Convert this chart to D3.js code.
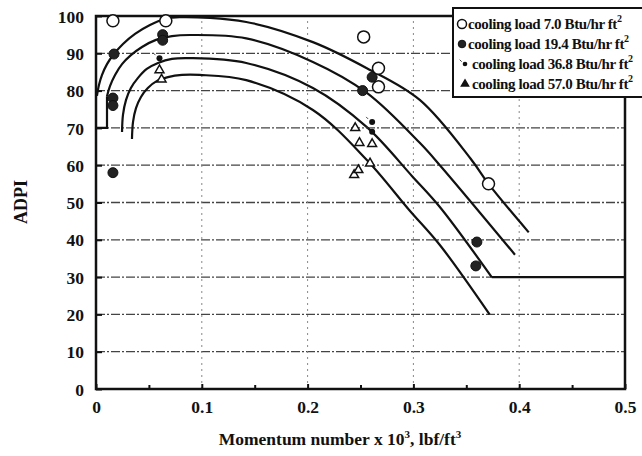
<!DOCTYPE html>
<html>
<head>
<meta charset="utf-8">
<script src="https://cdn.jsdelivr.net/npm/d3@7"></script>
<style>
  html, body { margin: 0; padding: 0; background: #fff; }
  svg { display: block; }
  text { font-family: "Liberation Serif", "DejaVu Serif", serif; font-weight: bold; fill: #111; }
</style>
</head>
<body>
<svg id="chart" width="642" height="456"></svg>
<script>
// ---- data ----
const xTicks = [0, 0.1, 0.2, 0.3, 0.4, 0.5];
const yTicks = [0, 10, 20, 30, 40, 50, 60, 70, 80, 90, 100];
const seriesNames = ["cooling load 7.0 Btu/hr ft", "cooling load 19.4 Btu/hr ft",
                     "cooling load 36.8 Btu/hr ft", "cooling load 57.0 Btu/hr ft"];

// measured points [momentum number, ADPI]
const load7 = [[0.016, 98.7], [0.066, 98.7], [0.253, 94.4], [0.267, 86], [0.267, 81], [0.371, 55]];
const load19 = [[0.017, 89.8], [0.016, 78], [0.016, 76], [0.016, 58], [0.063, 95], [0.063, 93.5],
                [0.261, 83.6], [0.252, 80], [0.36, 39.4], [0.359, 33]];
const load37 = [[0.06, 88.7], [0.261, 71.6], [0.261, 69]];
const load57 = [[0.06, 85.5], [0.062, 83], [0.245, 70], [0.249, 66], [0.261, 65.7],
                [0.259, 60.5], [0.244, 57.4], [0.248, 58.7]];

// fitted curves
const fit7 = [[0.0009, 78.6], [0.0028, 81.5], [0.0057, 84.2], [0.0104, 87.1], [0.017, 89.8],
              [0.0255, 92.5], [0.0369, 95.2], [0.051, 97.6], [0.0652, 99.2], [0.079, 99.7],
              [0.142, 98.4], [0.205, 93], [0.256, 86], [0.306, 77.5], [0.355, 61.4],
              [0.371, 55], [0.409, 42]];
const fit19 = [[0.0104, 78.5], [0.0132, 81.2], [0.018, 84.2], [0.0246, 87.1], [0.033, 89.5],
               [0.0435, 91.7], [0.0567, 93.6], [0.0718, 94.6], [0.0888, 94.9], [0.142, 94],
               [0.205, 87.7], [0.256, 79.4], [0.306, 66], [0.325, 60], [0.396, 36]];
const fit19Lead = [[0, 70], [0.0104, 70], [0.0104, 78.5]];
const fit37 = [[0.0246, 68.9], [0.0255, 73.5], [0.0284, 77.5], [0.033, 80.7], [0.0397, 83.4],
               [0.048, 85.8], [0.0586, 87.4], [0.0718, 88.5], [0.0888, 88.7], [0.142, 87.4],
               [0.205, 80.7], [0.256, 70.2], [0.299, 57], [0.325, 48.8], [0.374, 30]];
const fit37Tail = [[0.374, 30], [0.5, 30]];
const fit57 = [[0.034, 67], [0.035, 71.6], [0.0378, 75.3], [0.0425, 78.3], [0.049, 80.7],
               [0.0577, 82.6], [0.068, 83.6], [0.0813, 84.2], [0.098, 84.2], [0.142, 82.8],
               [0.205, 74.8], [0.256, 61.4], [0.296, 48], [0.325, 38.6], [0.372, 20]];

// ---- layout ----
const svg = d3.select("#chart");
const x = d3.scaleLinear().domain([0, 0.5]).range([96, 625]);
const y = d3.scaleLinear().domain([0, 100]).range([389, 16]);

// grid
svg.append("g").selectAll("line").data(yTicks.filter(d => d > 0 && d < 100)).join("line")
  .attr("x1", x(0)).attr("x2", x(0.5)).attr("y1", d => y(d)).attr("y2", d => y(d))
  .attr("stroke", "#444").attr("stroke-width", 1.3).attr("stroke-dasharray", "9,2,2,2");
svg.append("g").selectAll("line").data(xTicks.filter(d => d > 0 && d < 0.5)).join("line")
  .attr("y1", y(0)).attr("y2", y(100)).attr("x1", d => x(d)).attr("x2", d => x(d))
  .attr("stroke", "#888").attr("stroke-width", 1).attr("stroke-dasharray", "2,4");

// axes
const fmtX = d => d === 0 ? "0" : d3.format(".1f")(d);
const gx = svg.append("g").attr("transform", `translate(0,${y(0)})`)
  .call(d3.axisBottom(x).tickValues(xTicks).tickFormat(fmtX).tickSize(-5).tickPadding(12));
const gxm = svg.append("g").attr("transform", `translate(0,${y(0)})`)
  .call(d3.axisBottom(x).tickValues([0.05, 0.15, 0.25, 0.35, 0.45]).tickFormat("").tickSize(-4));
const gy = svg.append("g").attr("transform", `translate(${x(0)},0)`)
  .call(d3.axisLeft(y).tickValues(yTicks).tickSize(-6).tickPadding(12));
[gx, gxm, gy].forEach(g => {
  g.select(".domain").remove();
  g.selectAll(".tick line").attr("stroke", "#111").attr("stroke-width", 2);
  g.selectAll("text").attr("font-size", 17.5).attr("fill", "#111")
    .attr("font-family", "Liberation Serif").attr("font-weight", "bold");
});
gy.selectAll("text").attr("dy", "0.35em");

// frame
svg.append("rect").attr("x", x(0)).attr("y", y(100))
  .attr("width", x(0.5) - x(0)).attr("height", y(0) - y(100))
  .attr("fill", "none").attr("stroke", "#111").attr("stroke-width", 2.5);

// curves
const smooth = d3.line().x(d => x(d[0])).y(d => y(d[1])).curve(d3.curveCatmullRom.alpha(0.5));
const straight = d3.line().x(d => x(d[0])).y(d => y(d[1]));
[fit7, fit19, fit37, fit57].forEach(c => {
  svg.append("path").attr("d", smooth(c)).attr("fill", "none")
    .attr("stroke", "#111").attr("stroke-width", 2.2);
});
[fit19Lead, fit37Tail].forEach(c => {
  svg.append("path").attr("d", straight(c)).attr("fill", "none")
    .attr("stroke", "#111").attr("stroke-width", 2.2);
});

// markers
const tri = d3.symbol().type(d3.symbolTriangle);
function openCircle(g, px, py, r) {
  g.append("circle").attr("cx", px).attr("cy", py).attr("r", r)
    .attr("fill", "#fff").attr("stroke", "#111").attr("stroke-width", 1.5);
}
function filledCircle(g, px, py, r) {
  g.append("circle").attr("cx", px).attr("cy", py).attr("r", r)
    .attr("fill", "#222").attr("stroke", "#111").attr("stroke-width", 1);
}
function smallDot(g, px, py, r) {
  g.append("circle").attr("cx", px).attr("cy", py).attr("r", r).attr("fill", "#111");
  g.append("line").attr("x1", px - r - 1).attr("x2", px - r - 3).attr("y1", py - r).attr("y2", py - r - 2)
    .attr("stroke", "#444").attr("stroke-width", 1);
}
function triangle(g, px, py, size, fill) {
  g.append("path").attr("d", tri.size(size)()).attr("transform", `translate(${px},${py})`)
    .attr("fill", fill).attr("stroke", "#111").attr("stroke-width", 1.5);
}
const mk = svg.append("g");
load57.forEach(d => triangle(mk, x(d[0]), y(d[1]), 34, "#fff"));
load37.forEach(d => smallDot(mk, x(d[0]), y(d[1]), 3));
load19.forEach(d => filledCircle(mk, x(d[0]), y(d[1]), 5));
load7.forEach(d => openCircle(mk, x(d[0]), y(d[1]), 6));

// legend
const lg = svg.append("g");
lg.append("rect").attr("x", 453).attr("y", 8).attr("width", 200).attr("height", 89)
  .attr("fill", "#fff").attr("stroke", "#111").attr("stroke-width", 2);
const rowY = [24, 44, 64, 84];
const drawers = [
  (py) => openCircle(lg, 462, py, 4.5),
  (py) => filledCircle(lg, 462, py, 3.8),
  (py) => smallDot(lg, 465, py, 2.3),
  (py) => triangle(lg, 465, py, 22, "#111")
];
seriesNames.forEach((name, i) => {
  drawers[i](rowY[i]);
  const t = lg.append("text").attr("x", i < 2 ? 468 : 472).attr("y", rowY[i] + 5)
    .attr("font-size", 15).attr("letter-spacing", -0.4);
  t.append("tspan").text(name);
  t.append("tspan").attr("dy", -7).attr("font-size", 10).text("2");
});

// titles
const xt = svg.append("text").attr("x", 340).attr("y", 445).attr("text-anchor", "middle")
  .attr("font-size", 17.5);
xt.append("tspan").text("Momentum number x 10");
xt.append("tspan").attr("dy", -7).attr("font-size", 11).text("3");
xt.append("tspan").attr("dy", 7).text(", lbf/ft");
xt.append("tspan").attr("dy", -7).attr("font-size", 11).text("3");

svg.append("text").attr("transform", "translate(27,202) rotate(-90)")
  .attr("text-anchor", "middle").attr("font-size", 18).text("ADPI");
</script>
</body>
</html>
